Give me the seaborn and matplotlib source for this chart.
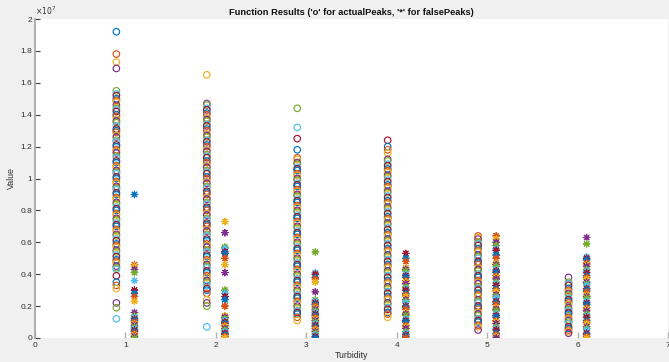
import numpy as np
import pandas as pd
import matplotlib
matplotlib.use("Agg")
import matplotlib.pyplot as plt
from matplotlib.ticker import FuncFormatter, MultipleLocator
import seaborn as sns

# Peak values per turbidity level, in units of 1e5
actual_1 = [192, 178, 173, 169, 155, 153, 152, 150, 149, 148, 146, 144, 143, 142, 140, 139, 137,
            136, 135, 133, 131, 130, 129, 127, 126, 124, 123, 121, 120, 118, 117, 116, 114, 113,
            111, 110, 108, 107, 105, 104, 103, 101, 100, 98, 97, 95, 94, 93, 91, 90, 88, 87, 85,
            84, 82, 81, 80, 78, 77, 75, 74, 72, 71, 70, 68, 67, 65, 64, 62, 61, 59, 58, 57, 55,
            54, 52, 51, 49, 48, 47, 45, 44, 43, 39, 35, 33, 31, 22, 19, 12]
false_1 = [90, 46, 45, 43, 41, 36, 30, 28, 26, 23, 16, 14, 13, 12, 11, 10, 9, 8, 7, 6, 5, 4, 3,
           2, 1, 0]

actual_2 = [165, 147, 146, 144, 143, 141, 140, 138, 137, 136, 134, 133, 131, 130, 128, 127, 126,
            124, 123, 121, 120, 118, 117, 115, 114, 113, 111, 110, 108, 107, 105, 104, 103, 101,
            100, 98, 97, 95, 94, 92, 91, 90, 88, 87, 85, 84, 82, 81, 80, 78, 77, 75, 74, 72, 71,
            70, 68, 67, 65, 64, 62, 61, 59, 58, 57, 55, 54, 52, 51, 49, 48, 46, 45, 44, 42, 41,
            39, 38, 36, 35, 33, 31, 30, 28, 24, 22, 20, 7]
false_2 = [73, 66, 57, 56, 54, 53, 50, 46, 41, 30, 28, 26, 24, 20, 14, 13, 12, 11, 10, 9, 8, 7,
           6, 5, 4, 3, 2, 1, 0]

actual_3 = [144, 132, 125, 118, 113, 112, 110, 109, 107, 106, 105, 103, 102, 100, 99, 97, 96, 95,
            93, 92, 90, 89, 87, 86, 85, 83, 82, 80, 79, 77, 76, 75, 73, 72, 70, 69, 67, 66, 65,
            63, 62, 60, 59, 57, 56, 55, 53, 52, 50, 49, 47, 46, 45, 43, 42, 40, 39, 37, 36, 35,
            33, 32, 30, 29, 27, 26, 25, 23, 22, 20, 19, 17, 16, 15, 13, 11]
false_3 = [54, 41, 40, 38, 37, 35, 29, 24, 23, 22, 21, 20, 19, 18, 17, 16, 15, 14, 13, 12, 11,
           10, 9, 8, 7, 6, 5, 4, 3, 2, 1, 0]

actual_4 = [124, 120, 118, 116, 112, 111, 109, 108, 106, 105, 104, 102, 101, 99, 98, 96, 95, 94,
            92, 91, 89, 88, 86, 85, 84, 82, 81, 79, 78, 76, 75, 74, 72, 71, 69, 68, 66, 65, 64,
            62, 61, 59, 58, 56, 55, 54, 52, 51, 49, 48, 46, 45, 44, 42, 41, 39, 38, 36, 35, 34,
            32, 31, 29, 28, 26, 25, 24, 22, 21, 19, 18, 16, 15, 13]
false_4 = [53, 50, 48, 44, 43, 42, 40, 39, 38, 36, 35, 34, 32, 31, 30, 28, 27, 26, 24, 23, 22,
           20, 19, 18, 16, 15, 14, 12, 11, 10, 8, 7, 6, 4, 3, 2, 1, 0]

actual_5 = [64, 63, 62, 60, 59, 58, 56, 55, 54, 52, 51, 50, 48, 47, 46, 44, 43, 42, 40, 39, 38,
            36, 35, 34, 32, 31, 30, 28, 27, 26, 24, 23, 22, 20, 19, 18, 16, 15, 14, 12, 11, 10,
            8, 7, 5]
false_5 = [64, 62, 60, 58, 56, 55, 52, 50, 47, 46, 45, 43, 42, 41, 39, 38, 37, 35, 34, 33, 31,
           30, 29, 27, 26, 25, 23, 22, 21, 19, 18, 17, 15, 14, 13, 11, 10, 9, 7, 6, 5, 3, 2, 1, 0]

actual_6 = [38, 35, 34, 33, 31, 30, 29, 28, 27, 25, 24, 23, 22, 21, 19, 18, 17, 16, 15, 13, 12,
            11, 10, 9, 7, 6, 5, 4, 3]
false_6 = [63, 59, 51, 50, 49, 47, 46, 45, 43, 42, 41, 39, 38, 37, 35, 34, 33, 31, 30, 29, 27,
           26, 25, 23, 22, 21, 19, 18, 17, 15, 14, 13, 11, 10, 9, 7, 6, 5, 3, 2, 1, 0]

turbidity = [1, 2, 3, 4, 5, 6]
actual_peaks = [actual_1, actual_2, actual_3, actual_4, actual_5, actual_6]
false_peaks = [false_1, false_2, false_3, false_4, false_5, false_6]

# MATLAB default line colour order
color_order = ["#0072BD", "#D95319", "#EDB120", "#7E2F8E", "#77AC30", "#4DBEEE", "#A2142F"]
palette = {f"c{i}": c for i, c in enumerate(color_order)}


def build_frame(groups, shift):
    rows = []
    for k, (t, vals) in enumerate(zip(turbidity, groups)):
        for i, v in enumerate(vals):
            rows.append({"x": t + shift, "y": v * 1e5, "series": f"c{(i + 2 * k) % 7}"})
    return pd.DataFrame(rows)


df_actual = build_frame(actual_peaks, -0.1)
df_false = build_frame(false_peaks, 0.1)

sns.set_theme(style="white")
plt.rcParams["font.family"] = ["Liberation Sans", "DejaVu Sans"]

fig = plt.figure(figsize=(6.69, 3.62), dpi=100, facecolor="#f0f0f0")
ax = fig.add_axes([35 / 669, 1 - 338 / 362, 633 / 669, 319 / 362])
ax.set_facecolor("white")

sns.scatterplot(data=df_actual, x="x", y="y", hue="series", palette=palette,
                hue_order=list(palette), marker="o", s=22, linewidth=0.85,
                legend=False, ax=ax)
circles = ax.collections[-1]
fc = circles.get_facecolors()
circles.set_edgecolors(fc)
circles.set_facecolors("none")

sns.scatterplot(data=df_false, x="x", y="y", hue="series", palette=palette,
                hue_order=list(palette), marker=(8, 2, 0), s=22, linewidth=0.8,
                legend=False, ax=ax)
stars = ax.collections[-1]
stars.set_edgecolors(stars.get_facecolors())

ax.set_xlim(0, 7)
ax.set_ylim(0, 2e7)
ax.xaxis.set_major_locator(MultipleLocator(1))
ax.yaxis.set_major_locator(MultipleLocator(0.2e7))
ax.yaxis.set_major_formatter(FuncFormatter(lambda v, p: f"{v / 1e7:g}"))
ax.xaxis.set_major_formatter(FuncFormatter(lambda v, p: f"{v:g}"))

for side in ["top", "right", "bottom"]:
    ax.spines[side].set_visible(False)
ax.spines["left"].set_color("#a8a8a8")
ax.spines["left"].set_linewidth(1.3)

ax.tick_params(axis="y", direction="in", length=3.5, width=0.8, color="#404040",
               labelsize=6, labelcolor="#303030", pad=2, left=True)
ax.tick_params(axis="x", direction="in", length=4, width=1.0, color="#b0b0b0",
               labelsize=6, labelcolor="#303030", pad=3, bottom=True)

ax.text(0.0, 1.005, r"$\times10^{7}$", transform=ax.transAxes, fontsize=5.5,
        color="#303030", ha="left", va="bottom")

ax.set_title("Function Results ('o' for actualPeaks, '*' for falsePeaks)",
             fontsize=6.7, fontweight="bold", color="#111111", pad=3)
ax.set_xlabel("Turbidity", fontsize=6.3, color="#303030", labelpad=1)
ax.set_ylabel("Value", fontsize=6.3, color="#303030", labelpad=3)

fig.savefig("out.png", dpi=100, facecolor=fig.get_facecolor())
